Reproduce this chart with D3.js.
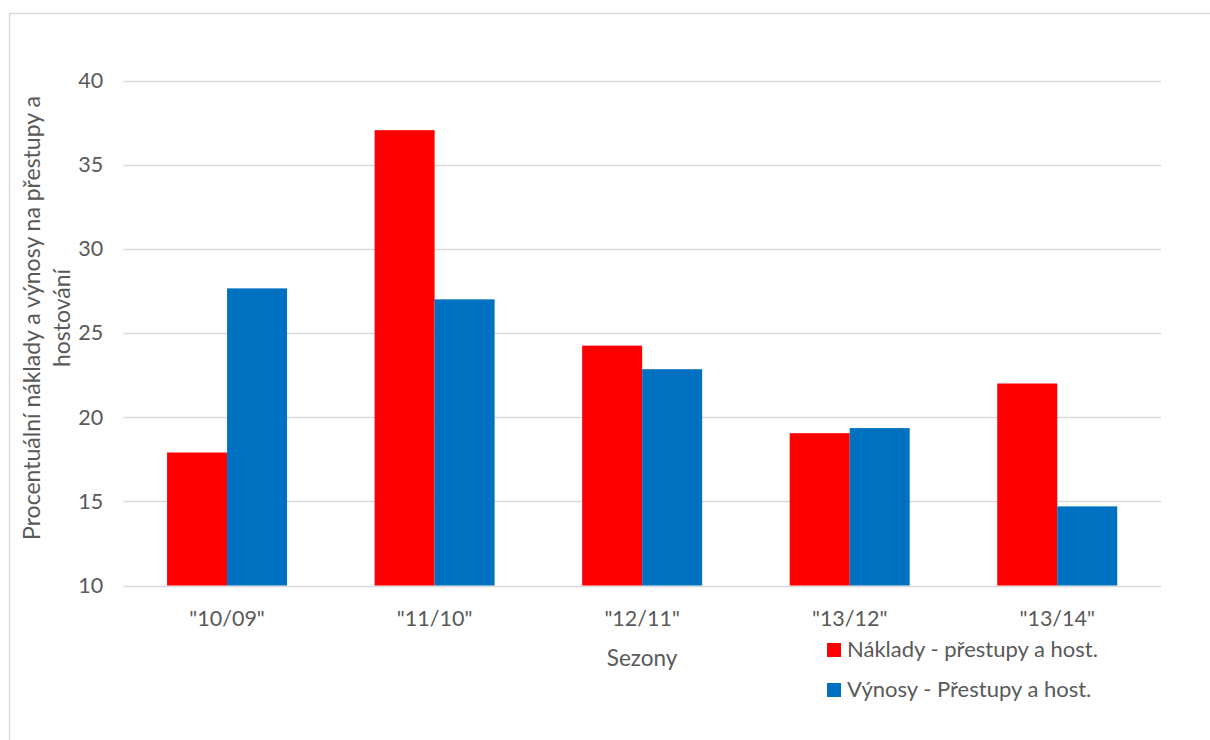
<!DOCTYPE html>
<html><head><meta charset="utf-8">
<script src="https://cdn.jsdelivr.net/npm/d3@7"></script>
<style>body{margin:0;background:#fff}svg{display:block}</style>
</head><body>
<svg id="c" width="1210" height="740"></svg>
<script>
const categories = ['"10/09"','"11/10"','"12/11"','"13/12"','"13/14"'];
const seriesNames = ['Náklady - přestupy a host.','Výnosy - Přestupy a host.'];
const naklady = [17.9, 37.05, 24.25, 19.05, 22.0];
const vynosy = [27.65, 27.0, 22.85, 19.35, 14.7];
const yTicks = [10,15,20,25,30,35,40];
const colors = ['#FF0000','#0070C0'];

(function(){
const svg = d3.select('#c');
const font = 'Lato, "Open Sans", sans-serif';
const txt = '#595959';

svg.append('rect').attr('x',9.5).attr('y',13.5).attr('width',1220).attr('height',760)
  .attr('fill','#fff').attr('stroke','#D9D9D9').attr('stroke-width',1.5);

const pl = 123.3, pr = 1161, pt = 80.5, pb = 585.5;
const y = d3.scaleLinear().domain([10,40]).range([pb, pt]);
const p = 1 - 120/((pr-pl)/5);
const x0 = d3.scaleBand().domain(categories).range([pl,pr]).paddingInner(p).paddingOuter(p/2);
const x1 = d3.scaleBand().domain([0,1]).range([0,x0.bandwidth()]);

svg.append('g').selectAll('line').data(yTicks).join('line')
  .attr('x1',pl).attr('x2',pr).attr('y1',d=>Math.round(y(d))+0.5).attr('y2',d=>Math.round(y(d))+0.5)
  .attr('stroke','#D9D9D9').attr('stroke-width',1.3);

const yAxis = d3.axisLeft(y).tickValues(yTicks).tickSize(0).tickPadding(0);
const ya = svg.append('g').attr('transform',`translate(${pl-20},0)`).call(yAxis);
ya.select('.domain').remove();
ya.selectAll('text').attr('font-family',font).attr('font-size',21.5).attr('fill',txt);

const data = categories.map((c,i)=>({c, v:[naklady[i], vynosy[i]]}));
const g = svg.append('g');
data.forEach(d=>{
  g.selectAll(null).data(d.v).join('rect')
    .attr('x',(v,j)=>x0(d.c)+x1(j)).attr('width',x1.bandwidth())
    .attr('y',v=>y(v)).attr('height',v=>y(10)-y(v))
    .attr('fill',(v,j)=>colors[j]);
});

const xAxis = d3.axisBottom(x0).tickSize(0).tickPadding(0);
const xa = svg.append('g').attr('transform',`translate(0,${pb+40})`).call(xAxis);
xa.select('.domain').remove();
xa.selectAll('text').attr('dy',0).attr('font-family',font).attr('font-size',21.5).attr('fill',txt);

svg.append('text').attr('x',(pl+pr)/2).attr('y',666).attr('text-anchor','middle')
  .attr('font-family',font).attr('font-size',22.5).attr('fill',txt).text('Sezony');

const yt = svg.append('text').attr('transform','translate(0,318) rotate(-90)')
  .attr('text-anchor','middle').attr('font-family',font).attr('font-size',23).attr('fill',txt);
yt.append('tspan').attr('x',0).attr('y',40).text('Procentuální náklady a výnosy na přestupy a');
yt.append('tspan').attr('x',0).attr('y',70).text('hostování');

const lg = svg.append('g');
seriesNames.forEach((n,i)=>{
  lg.append('rect').attr('x',827).attr('y',643+i*40).attr('width',14).attr('height',14).attr('fill',colors[i]);
  lg.append('text').attr('x',847).attr('y',657+i*40).attr('font-family',font).attr('font-size',22)
    .attr('fill',txt).text(n);
});
})();
</script>
</body></html>
